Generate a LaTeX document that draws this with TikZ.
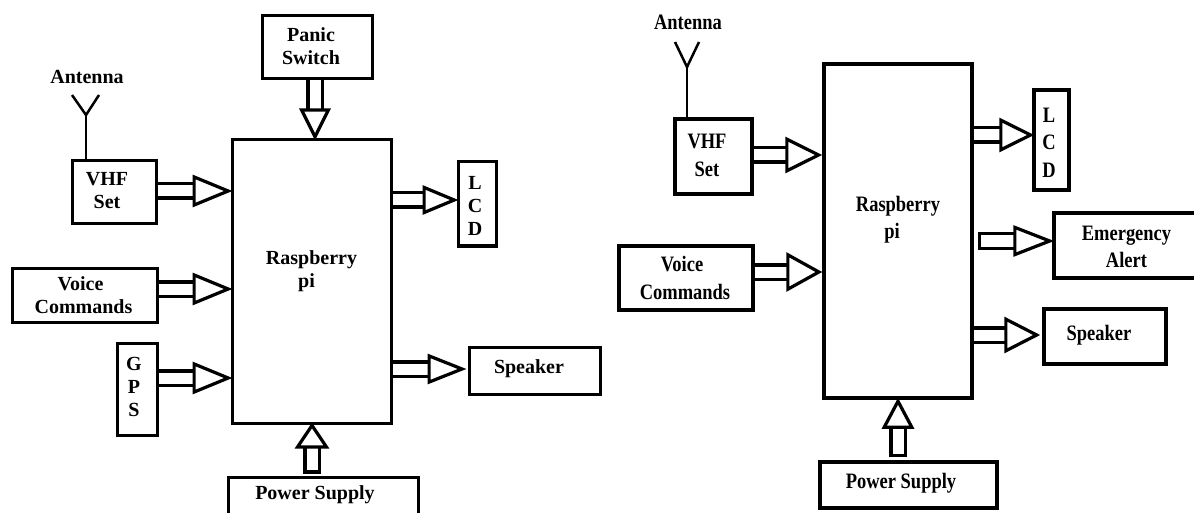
\documentclass[tikz,border=0pt]{standalone}
\usepackage{fontspec}
\setmainfont{Liberation Serif}
\newfontfamily\tallfont[FakeStretch=0.84]{Liberation Serif}
\usetikzlibrary{arrows.meta}
\begin{document}
\begin{tikzpicture}[x=1pt,y=-1pt,box/.style={draw,line width=3pt,inner sep=0pt},boxr/.style={draw,line width=3.5pt,inner sep=0pt},
    tag/.style={font=\fontsize{20}{23}\selectfont\bfseries,align=center,inner sep=0pt},
    tagr/.style={font=\fontsize{22}{27.5}\selectfont\tallfont\bfseries,align=center,inner sep=0pt},
    flow/.style 2 args={draw,line width=3.2pt,double=white,double distance=11pt,shorten >=-2pt,-{Triangle[length=#1,width=#2,fill=white,line width=3.2pt]}},
    flowc/.style 2 args={flow={#1}{#2},{Bar[width=17.4pt,line width=3.2pt]}-{Triangle[length=#1,width=#2,fill=white,line width=3.2pt]}},
    aerial/.style={draw,line width=2.5pt}]
    \useasboundingbox (0,0) rectangle (1194,513);
    \node[box,minimum width=159pt,minimum height=283pt,label={[tag,yshift=10pt]center:Raspberry\\pi\hspace*{10pt}}] (pil) at (311.5,281.5) {};
    \node[box,minimum width=110pt,minimum height=63pt,label={[tag,xshift=-6pt,yshift=1pt]center:Panic\\Switch}] (panicl) at (317,47.5) {};
    \node[box,minimum width=84pt,minimum height=63pt,label={[tag,xshift=-7pt,yshift=2pt]center:VHF\\Set}] (vhfl) at (114,192.5) {};
    \node[box,minimum width=145pt,minimum height=54pt,label={[tag,xshift=-1pt]center:Voice\hspace*{6pt}\\Commands}] (voicel) at (84.5,295) {};
    \node[box,minimum width=40pt,minimum height=92pt,label={[tag,xshift=-3pt,yshift=2pt]center:G\\P\\S}] (gpsl) at (137,389) {};
    \node[box,minimum width=38pt,minimum height=84pt,label={[tag,xshift=-2pt,yshift=-2pt]center:L\\C\\D}] (lcdl) at (477,204) {};
    \node[box,minimum width=131pt,minimum height=47pt,label={[tag,xshift=-5.5pt,yshift=1.5pt]center:Speaker}] (speakerl) at (534.5,370.5) {};
    \node[box,minimum width=190pt,minimum height=53pt,label={[tag,xshift=-8pt,yshift=8.5pt]center:Power Supply}] (powerl) at (323,503.5) {};
    \node[tag] (antennal) at (87,77) {Antenna};
    \coordinate (aerialla) at (72,95);
    \coordinate (aeriallb) at (99,95);
    \coordinate (aeriallc) at (86,115);
    \draw[aerial] (aerialla) -- (aeriallc) -- (aeriallb);
    \draw[aerial] (aeriallc) -- (aeriallc |- vhfl.north);
    \draw[flow={40pt}{32pt}] (vhfl.east |- 0,191) -- (pil.west |- 0,191);
    \draw[flow={40pt}{32pt}] (voicel.east |- 0,289) -- (pil.west |- 0,289);
    \draw[flow={40pt}{32pt}] (gpsl.east |- 0,378) -- (pil.west |- 0,378);
    \draw[flow={36pt}{29pt}] (pil.east |- 0,200) -- (lcdl.west |- 0,200);
    \draw[flow={39pt}{30pt}] (pil.east |- 0,369) -- ([xshift=-3pt]speakerl.west |- 0,369);
    \draw[flow={32pt}{31pt}] (panicl.south -| 315,0) -- (pil.north -| 315,0);
    \draw[flowc={26pt}{34pt}] ([yshift=-49pt]pil.south -| 312,0) -- (pil.south -| 312,0);

    \node[boxr,minimum width=148pt,minimum height=334pt,label={[tagr,yshift=11.5pt]center:Raspberry\\pi\hspace*{12pt}}] (pir) at (898,231) {};
    \node[boxr,minimum width=77pt,minimum height=75pt,label={[tagr,xshift=-6.5pt,yshift=1pt]center:VHF\\Set}] (vhfr) at (713.5,156.5) {};
    \node[boxr,minimum width=134pt,minimum height=64pt,label={[tagr,xshift=-1pt]center:Voice\hspace*{6pt}\\Commands}] (voicer) at (686,278) {};
    \node[boxr,minimum width=35pt,minimum height=100pt,label={[tagr,xshift=-2.5pt,yshift=-2.5pt]center:L\\C\\D}] (lcdr) at (1051.5,140) {};
    \node[boxr,minimum width=146pt,minimum height=65pt,label={[tagr,xshift=-0.5pt,yshift=-1.5pt]center:Emergency\\Alert}] (alertr) at (1127,245.5) {};
    \node[boxr,minimum width=122pt,minimum height=55pt,label={[tagr,xshift=-6pt,yshift=1.5pt]center:Speaker}] (speakerr) at (1105,336.5) {};
    \node[boxr,minimum width=177pt,minimum height=46pt,label={[tagr,xshift=-7.5pt,yshift=2pt]center:Power Supply}] (powerr) at (908.5,485) {};
    \node[tagr] (antennar) at (688,22) {Antenna};
    \coordinate (aerialra) at (675,42);
    \coordinate (aerialrb) at (699,42);
    \coordinate (aerialrc) at (687,67);
    \draw[aerial] (aerialra) -- (aerialrc) -- (aerialrb);
    \draw[aerial] (aerialrc) -- (aerialrc |- vhfr.north);
    \draw[flow={37pt}{36pt}] (vhfr.east |- 0,155) -- ([xshift=-2pt]pir.west |- 0,155);
    \draw[flow={36pt}{39pt}] (voicer.east |- 0,272) -- ([xshift=-2pt]pir.west |- 0,272);
    \draw[flow={35pt}{34pt}] (pir.east |- 0,135) -- (lcdr.west |- 0,135);
    \draw[flowc={41pt}{31pt}] ([xshift=4pt]pir.east |- 0,241) -- (alertr.west |- 0,241);
    \draw[flow={36pt}{36pt}] (pir.east |- 0,335) -- ([xshift=-4pt]speakerr.west |- 0,335);
    \draw[flowc={31pt}{32pt}] ([yshift=-57pt]pir.south -| 898,0) -- (pir.south -| 898,0);
\end{tikzpicture}
\end{document}
